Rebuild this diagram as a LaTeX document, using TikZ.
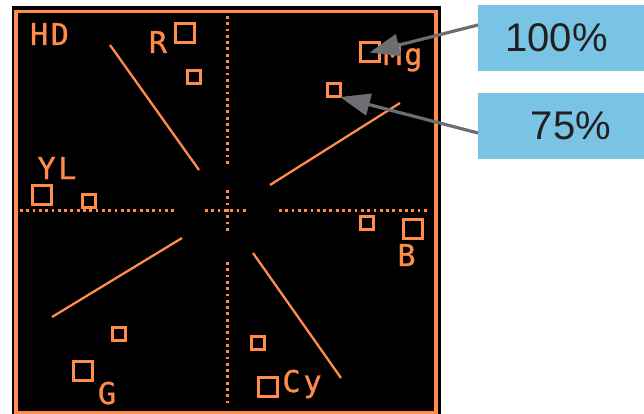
\documentclass[tikz,border=0pt]{standalone}
\usepackage{fontspec}
\newfontfamily\scopefont[FakeBold=1]{DejaVu Sans Mono}
\newfontfamily\boxfont{Liberation Sans}
\usetikzlibrary{arrows.meta}
\definecolor{scopeorange}{RGB}{255,140,75}
\definecolor{calloutblue}{RGB}{121,195,228}
\definecolor{calloutgray}{RGB}{109,110,113}
\definecolor{callouttext}{RGB}{35,31,32}
\begin{document}
\begin{tikzpicture}[x=1pt,y=-1pt,
  bigsq/.style={draw=scopeorange, line width=3pt, minimum size=19pt, inner sep=0pt, outer sep=0pt},
  smallsq/.style={draw=scopeorange, line width=3pt, minimum size=13pt, inner sep=0pt, outer sep=0pt},
  lbl/.style={text=scopeorange, font=\scopefont\fontsize{30}{30}\selectfont, inner sep=0pt, anchor=base},
  dotline/.style={draw=scopeorange, line width=2.6pt, dash pattern=on 2.8pt off 3.5pt},
  trace/.style={draw=scopeorange, line width=2.3pt},
  callout/.style={fill=calloutblue, minimum width=166pt, minimum height=66pt, inner sep=0pt, outer sep=0pt,
    text=callouttext, font=\boxfont\fontsize{40}{40}\selectfont},
  pointer/.style={draw=calloutgray, line width=3.2pt, -{Triangle[length=30pt,width=22pt]}}]
\useasboundingbox (0,0) rectangle (644,414);
% screen
\fill[black] (12,6) rectangle (441,414);
\draw[scopeorange, line width=3.5pt] (16,11.5) rectangle (435.8,412.5);
% graticule
\draw[dotline] (227.3,16) -- (227.3,166);
\draw[dotline] (227.3,190) -- (227.3,231);
\draw[dotline] (227.3,262) -- (227.3,404);
\draw[dotline] (20,210.3) -- (176,210.3);
\draw[dotline] (205,210.3) -- (249,210.3);
\draw[dotline] (279,210.3) -- (429,210.3);
% traces
\draw[trace] (110,45) -- (199,170);
\draw[trace] (270,185) -- (400,103);
\draw[trace] (52,317) -- (182,238);
\draw[trace] (253,253) -- (341,378);
% target boxes
\node[bigsq] (rbig) at (184.5,33.5) {};
\node[smallsq] (rsmall) at (194,77.5) {};
\node[bigsq] (ylbig) at (42,195) {};
\node[smallsq] (ylsmall) at (88.5,201) {};
\node[bigsq] (mgbig) at (369.5,52.5) {};
\node[smallsq] (mgsmall) at (333.5,90.5) {};
\node[smallsq] (bsmall) at (366.5,223) {};
\node[bigsq] (bbig) at (412.5,229) {};
\node[smallsq] (cysmall) at (257.5,343) {};
\node[bigsq] (cybig) at (267.5,387) {};
\node[smallsq] (gsmall) at (118.5,333.5) {};
\node[bigsq] (gbig) at (82.5,371) {};
% labels
\node[lbl] (hd) at (49.5,45) {H\kern2.7pt D};
\node[lbl] (rl) at (158,53) {R};
\node[lbl] (yll) at (57,179) {Y\kern2.7pt L};
\node[lbl] (mgl) at (403,65) {M\kern2.7pt g};
\node[lbl] (bl) at (406.5,266) {B};
\node[lbl] (cyl) at (302,392) {C\kern3pt y};
\node[lbl] (gl) at (107,404) {G};
% callouts
\node[callout] (box1) at (561,38) {\kern-9pt 100\%};
\node[callout] (box2) at (561,126) {\kern20pt 75\%};
\draw[pointer] ([yshift=13pt]box1.west) -- (mgbig.center);
\draw[pointer] ([yshift=-7pt]box2.west) -- (mgsmall.south east);
\end{tikzpicture}
\end{document}
